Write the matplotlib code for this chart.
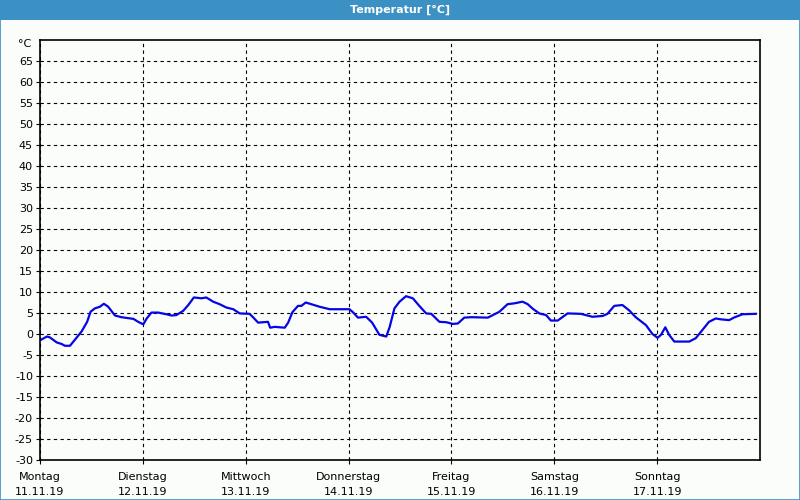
import matplotlib
matplotlib.use("Agg")
from matplotlib import pyplot as plt
from matplotlib.patches import Rectangle

plt.rcParams["axes.unicode_minus"] = False

# hours since Monday 00:00 and temperature in degC
hours = [0.2, 1.6, 2.3, 3.9, 5.1, 5.8, 7.0, 8.2, 9.7, 11.0, 11.8, 12.8, 14.0, 14.9, 15.9,
         17.5, 19.0, 21.8, 22.9, 24.1, 24.9, 26.0, 27.6, 29.5, 30.7, 31.8, 33.4, 34.6, 35.9,
         37.7, 38.8, 40.4, 41.9, 43.5, 45.1, 46.6, 48.9, 49.7, 50.9, 52.0, 53.2, 53.7, 54.8,
         57.1, 57.9, 58.9, 60.2, 61.0, 62.0, 63.3, 65.2, 67.6, 72.2, 73.0, 74.2, 76.1, 77.5,
         79.2, 80.8, 81.6, 82.7, 83.9, 85.4, 87.0, 88.5, 90.1, 91.3, 93.2, 94.8, 96.3, 97.5,
         99.0, 100.6, 104.5, 107.2, 109.1, 110.7, 112.6, 113.8, 115.0, 116.5, 118.1, 119.2,
         120.8, 123.1, 126.2, 128.9, 131.3, 132.4, 134.0, 135.9, 137.5, 139.0, 141.4, 142.9,
         144.1, 144.9, 145.9, 146.8, 148.0, 151.5, 153.0, 154.6, 156.1, 157.7, 158.8, 160.8,
         161.9, 163.9, 167.0]
temps = [-1.4, -0.6, -0.8, -2.0, -2.4, -2.8, -2.8, -1.3, 0.6, 2.9, 5.3, 6.1, 6.5, 7.2, 6.5,
         4.4, 4.0, 3.6, 2.9, 2.3, 3.7, 5.1, 5.1, 4.7, 4.4, 4.5, 5.5, 6.9, 8.7,
         8.5, 8.7, 7.7, 7.1, 6.3, 5.9, 4.9, 4.8, 4.0, 2.7, 2.8, 2.9, 1.5, 1.7,
         1.5, 2.7, 5.2, 6.7, 6.7, 7.5, 7.1, 6.5, 5.9, 5.9, 5.2, 3.9, 4.1, 2.7,
         -0.2, -0.6, 1.7, 6.1, 7.7, 9.0, 8.5, 6.7, 4.9, 4.8, 2.9, 2.8, 2.4, 2.5,
         3.9, 4.0, 3.9, 5.3, 7.1, 7.3, 7.7, 7.1, 6.0, 4.9, 4.5, 3.2,
         3.2, 4.9, 4.8, 4.1, 4.3, 4.8, 6.7, 6.9, 5.6, 4.0, 2.1, 0.0,
         -0.9, -0.2, 1.6, -0.2, -1.8, -1.8, -1.0, 1.0, 2.9, 3.7, 3.5, 3.3,
         3.9, 4.7, 4.8]
days = ["Montag", "Dienstag", "Mittwoch", "Donnerstag", "Freitag", "Samstag", "Sonntag"]
dates = ["11.11.19", "12.11.19", "13.11.19", "14.11.19", "15.11.19", "16.11.19", "17.11.19"]
yticks = list(range(-30, 70, 5))

bg = "#fbfdfb"
frame = "#3c91c4"

fig = plt.figure(figsize=(8, 5), dpi=100, facecolor=bg)

# title bar and window border
fig.patches.append(Rectangle((0, 0.96), 1, 0.04, transform=fig.transFigure,
                             facecolor=frame, edgecolor="none", zorder=0))
fig.patches.append(Rectangle((0.0006, 0.001), 0.9988, 0.998, transform=fig.transFigure,
                             facecolor="none", edgecolor=frame, linewidth=1.2, zorder=0))
fig.text(0.5, 0.98, "Temperatur [°C]", color="white", fontsize=8, fontweight="bold",
         ha="center", va="center")

ax = fig.add_axes([0.05, 0.08, 0.90, 0.84])
ax.set_facecolor(bg)
ax.plot([h / 24 for h in hours], temps, color="#0505e6", linewidth=1.6)

ax.set_xlim(0, 7)
ax.set_ylim(-30, 70)
ax.set_yticks(yticks)
ax.set_xticks(range(7))
ax.set_xticklabels([d + "\n" + s for d, s in zip(days, dates)], linespacing=1.6)
ax.tick_params(axis="both", direction="out", length=3, width=0.8, labelsize=8, pad=2)
ax.tick_params(axis="x", pad=6)

ax.grid(True, color="black", linestyle=(0, (3, 3)), linewidth=0.8)
for s in ax.spines.values():
    s.set_linewidth(1.2)
    s.set_color("black")

ax.text(-0.012, 69, "°C", transform=ax.get_yaxis_transform(), ha="right", va="center",
        fontsize=8)

fig.savefig("out.png", dpi=100, facecolor=bg)
